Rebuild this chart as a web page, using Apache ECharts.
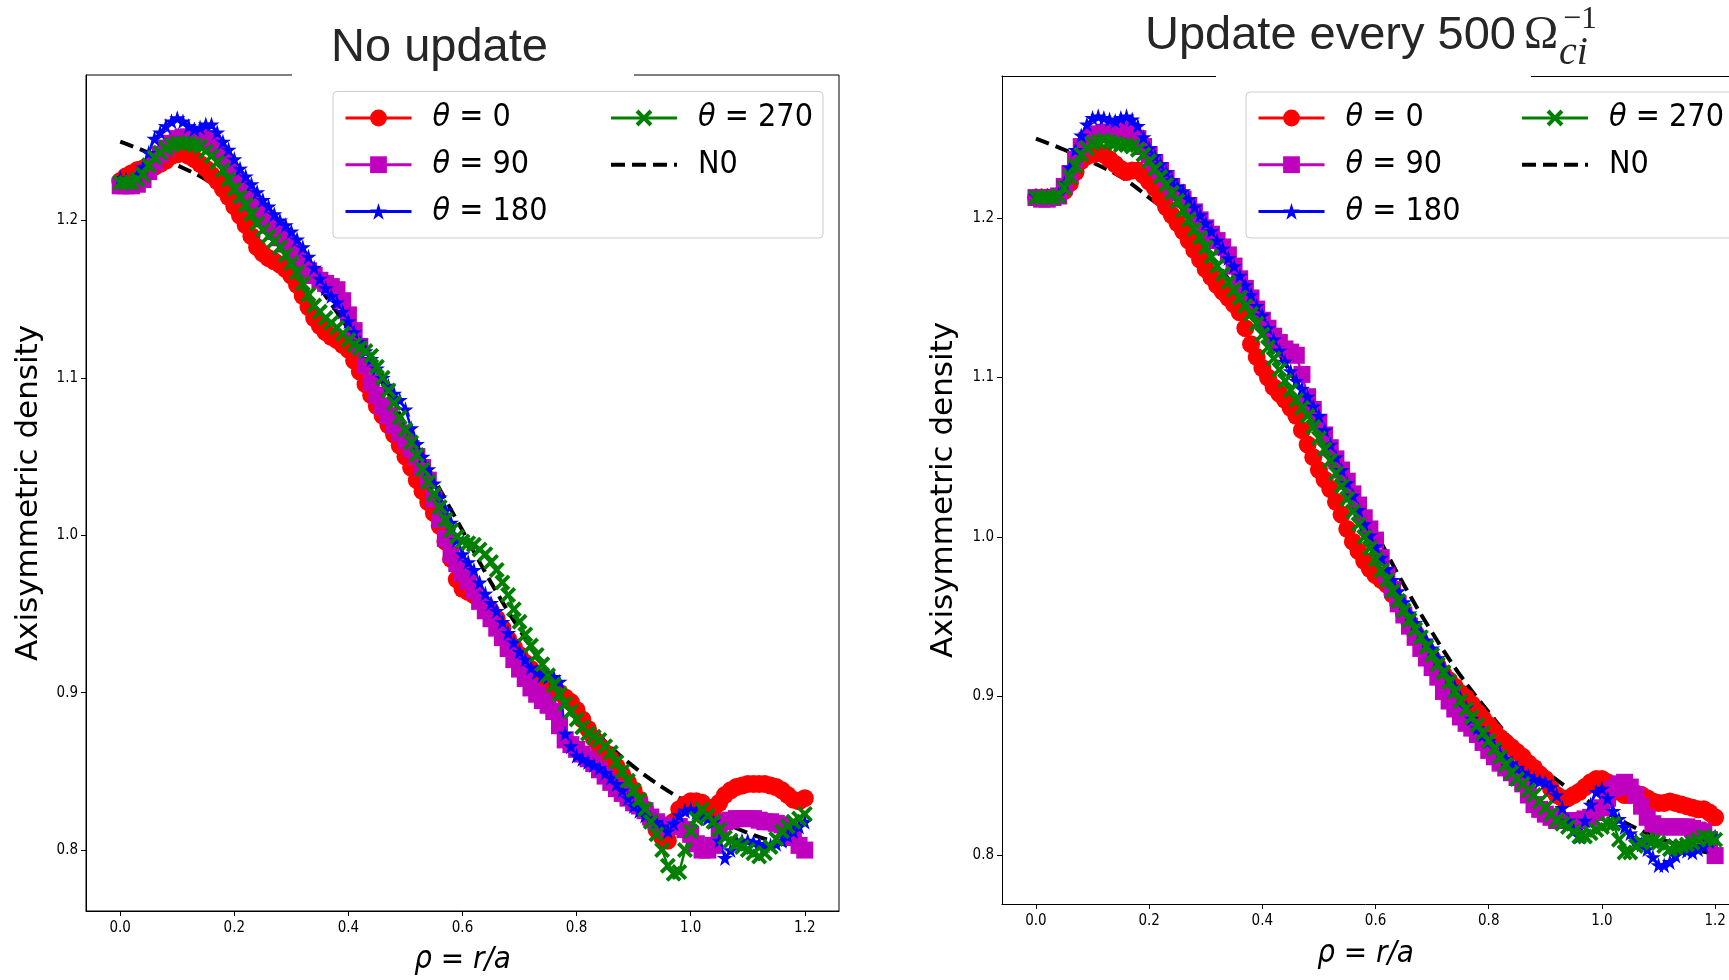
<!DOCTYPE html>
<html><head><meta charset="utf-8">
<script src="https://cdn.jsdelivr.net/npm/echarts@6/dist/echarts.min.js"></script>
<style>html,body{margin:0;padding:0;background:#fff}#c{width:1729px;height:980px}</style>
</head><body><div id="c"></div>
<script>
// ---- data ----
const rho = [0,0.01,0.02,0.03,0.04,0.05,0.06,0.07,0.08,0.09,
0.1,0.11,0.12,0.13,0.14,0.15,0.16,0.17,0.18,0.19,
0.2,0.21,0.22,0.23,0.24,0.25,0.26,0.27,0.28,0.29,
0.3,0.31,0.32,0.33,0.34,0.35,0.36,0.37,0.38,0.39,
0.4,0.41,0.42,0.43,0.44,0.45,0.46,0.47,0.48,0.49,
0.5,0.51,0.52,0.53,0.54,0.55,0.56,0.57,0.58,0.59,
0.6,0.61,0.62,0.63,0.64,0.65,0.66,0.67,0.68,0.69,
0.7,0.71,0.72,0.73,0.74,0.75,0.76,0.77,0.78,0.79,
0.8,0.81,0.82,0.83,0.84,0.85,0.86,0.87,0.88,0.89,
0.9,0.91,0.92,0.93,0.94,0.95,0.96,0.97,0.98,0.99,
1.0,1.01,1.02,1.03,1.04,1.05,1.06,1.07,1.08,1.09,
1.1,1.11,1.12,1.13,1.14,1.15,1.16,1.17,1.18,1.19,
1.2];

// left panel: "No update"
const leftT0 = [1.225,1.228,1.230,1.232,1.233,1.233,1.234,1.236,1.238,1.241,
1.242,1.243,1.241,1.239,1.236,1.233,1.229,1.225,1.220,1.215,
1.209,1.203,1.197,1.190,1.183,1.179,1.176,1.174,1.172,1.169,
1.165,1.159,1.152,1.145,1.138,1.133,1.129,1.126,1.124,1.121,
1.118,1.111,1.104,1.096,1.089,1.082,1.076,1.070,1.064,1.057,
1.050,1.043,1.035,1.028,1.021,1.014,1.006,0.996,0.985,0.972,
0.966,0.964,0.962,0.959,0.956,0.952,0.947,0.941,0.934,0.929,
0.924,0.919,0.915,0.911,0.908,0.905,0.902,0.900,0.897,0.894,
0.889,0.883,0.877,0.871,0.866,0.862,0.858,0.853,0.848,0.843,
0.838,0.832,0.826,0.819,0.813,0.808,0.806,0.818,0.826,0.829,
0.831,0.831,0.830,0.827,0.826,0.830,0.835,0.838,0.840,0.841,
0.842,0.842,0.842,0.842,0.841,0.840,0.838,0.835,0.832,0.831,
0.833];
const leftT90 = [1.222,1.222,1.222,1.223,1.226,1.231,1.237,1.242,1.246,1.249,
1.252,1.253,1.253,1.253,1.253,1.252,1.249,1.245,1.240,1.234,
1.228,1.222,1.216,1.211,1.206,1.201,1.197,1.193,1.189,1.185,
1.180,1.176,1.172,1.168,1.165,1.162,1.160,1.158,1.156,1.149,
1.140,1.130,1.120,1.108,1.097,1.089,1.082,1.076,1.070,1.065,
1.060,1.055,1.050,1.043,1.035,1.023,1.010,0.998,0.988,0.982,
0.976,0.971,0.965,0.958,0.952,0.947,0.941,0.935,0.928,0.921,
0.915,0.909,0.903,0.899,0.895,0.892,0.888,0.879,0.870,0.867,
0.864,0.861,0.858,0.855,0.851,0.847,0.843,0.839,0.836,0.833,
0.830,0.828,0.825,0.821,0.818,0.816,0.815,0.815,0.815,0.813,
0.810,0.804,0.800,0.800,0.803,0.812,0.818,0.819,0.820,0.820,
0.820,0.820,0.819,0.818,0.818,0.817,0.816,0.813,0.808,0.803,
0.800];
const leftT180 = [1.227,1.226,1.226,1.229,1.234,1.243,1.252,1.256,1.260,1.263,
1.265,1.263,1.260,1.258,1.259,1.261,1.261,1.256,1.250,1.245,
1.239,1.233,1.228,1.223,1.218,1.213,1.209,1.204,1.200,1.197,
1.193,1.188,1.183,1.177,1.170,1.163,1.157,1.152,1.148,1.142,
1.136,1.129,1.123,1.117,1.112,1.106,1.100,1.095,1.090,1.086,
1.080,1.068,1.058,1.050,1.042,1.033,1.024,1.016,1.008,0.997,
0.988,0.983,0.978,0.970,0.963,0.957,0.952,0.945,0.938,0.932,
0.926,0.921,0.916,0.913,0.911,0.910,0.910,0.907,0.874,0.866,
0.860,0.858,0.856,0.854,0.852,0.849,0.846,0.842,0.838,0.833,
0.828,0.825,0.822,0.820,0.818,0.815,0.812,0.817,0.822,0.825,
0.826,0.824,0.822,0.820,0.818,0.806,0.795,0.800,0.806,0.806,
0.806,0.805,0.804,0.803,0.803,0.804,0.806,0.809,0.812,0.815,
0.818];
const leftT270 = [1.224,1.224,1.224,1.226,1.229,1.235,1.240,1.243,1.246,1.248,
1.249,1.249,1.249,1.248,1.247,1.244,1.241,1.237,1.232,1.226,
1.220,1.215,1.210,1.204,1.198,1.194,1.190,1.187,1.183,1.178,
1.173,1.167,1.160,1.153,1.146,1.142,1.138,1.135,1.132,1.128,
1.124,1.121,1.119,1.117,1.114,1.107,1.100,1.092,1.084,1.075,
1.067,1.059,1.051,1.042,1.034,1.026,1.018,1.010,1.003,0.999,
0.996,0.995,0.994,0.991,0.988,0.983,0.978,0.970,0.962,0.953,
0.945,0.937,0.930,0.924,0.918,0.911,0.905,0.899,0.893,0.888,
0.883,0.878,0.874,0.872,0.870,0.866,0.862,0.856,0.850,0.844,
0.838,0.832,0.826,0.818,0.810,0.800,0.790,0.785,0.786,0.800,
0.812,0.820,0.826,0.822,0.818,0.813,0.808,0.806,0.804,0.802,
0.800,0.798,0.796,0.798,0.802,0.807,0.812,0.815,0.818,0.820,
0.823];

// right panel: "Update every 500"
const rightT0 = [1.213,1.213,1.213,1.213,1.214,1.217,1.222,1.229,1.236,1.239,
1.240,1.241,1.240,1.237,1.234,1.231,1.229,1.230,1.230,1.227,
1.223,1.219,1.213,1.207,1.202,1.197,1.192,1.186,1.180,1.174,
1.168,1.163,1.158,1.154,1.150,1.146,1.141,1.131,1.121,1.113,
1.106,1.100,1.094,1.090,1.086,1.081,1.076,1.067,1.058,1.050,
1.042,1.036,1.030,1.022,1.014,1.005,0.997,0.991,0.985,0.980,
0.976,0.973,0.970,0.964,0.958,0.952,0.946,0.940,0.934,0.929,
0.924,0.919,0.914,0.910,0.906,0.902,0.899,0.895,0.890,0.886,
0.882,0.878,0.874,0.871,0.868,0.865,0.862,0.858,0.855,0.851,
0.848,0.842,0.838,0.836,0.836,0.838,0.840,0.843,0.846,0.848,
0.848,0.846,0.843,0.840,0.838,0.838,0.839,0.838,0.836,0.834,
0.833,0.833,0.834,0.833,0.832,0.831,0.830,0.829,0.829,0.827,
0.824];
const rightT90 = [1.213,1.212,1.212,1.213,1.214,1.220,1.228,1.237,1.245,1.249,
1.252,1.253,1.254,1.254,1.254,1.255,1.256,1.254,1.250,1.245,
1.240,1.235,1.230,1.225,1.220,1.216,1.212,1.208,1.204,1.199,
1.194,1.190,1.186,1.182,1.177,1.170,1.162,1.156,1.150,1.143,
1.136,1.131,1.126,1.122,1.118,1.116,1.114,1.102,1.088,1.080,
1.072,1.064,1.056,1.049,1.042,1.035,1.027,1.020,1.012,1.005,
0.998,0.987,0.976,0.967,0.958,0.951,0.944,0.937,0.930,0.924,
0.918,0.912,0.903,0.897,0.892,0.887,0.883,0.880,0.876,0.871,
0.866,0.862,0.858,0.855,0.852,0.849,0.845,0.838,0.832,0.829,
0.826,0.824,0.822,0.822,0.822,0.822,0.822,0.823,0.824,0.827,
0.830,0.836,0.842,0.845,0.846,0.843,0.838,0.831,0.824,0.820,
0.818,0.818,0.818,0.818,0.818,0.818,0.817,0.816,0.815,0.810,
0.800];
const rightT180 = [1.214,1.214,1.214,1.214,1.215,1.222,1.232,1.243,1.252,1.259,
1.263,1.264,1.263,1.262,1.261,1.263,1.264,1.262,1.258,1.251,
1.244,1.239,1.234,1.229,1.224,1.220,1.217,1.212,1.207,1.202,
1.197,1.192,1.186,1.181,1.175,1.170,1.164,1.158,1.152,1.145,
1.139,1.131,1.124,1.117,1.110,1.104,1.098,1.093,1.088,1.082,
1.076,1.067,1.058,1.050,1.042,1.034,1.026,1.017,1.008,1.001,
0.994,0.987,0.980,0.973,0.966,0.959,0.952,0.946,0.940,0.935,
0.930,0.924,0.918,0.912,0.906,0.899,0.893,0.886,0.880,0.876,
0.872,0.868,0.864,0.861,0.858,0.855,0.852,0.850,0.848,0.847,
0.846,0.843,0.838,0.830,0.822,0.816,0.812,0.822,0.832,0.840,
0.842,0.836,0.828,0.823,0.818,0.814,0.810,0.807,0.804,0.799,
0.794,0.794,0.796,0.800,0.804,0.803,0.802,0.804,0.806,0.809,
0.812];
const rightT270 = [1.213,1.213,1.213,1.213,1.214,1.219,1.226,1.233,1.240,1.244,
1.247,1.248,1.249,1.248,1.247,1.246,1.246,1.245,1.243,1.240,
1.236,1.231,1.226,1.221,1.216,1.211,1.205,1.199,1.193,1.188,
1.182,1.176,1.170,1.165,1.160,1.155,1.150,1.145,1.140,1.134,
1.127,1.119,1.112,1.105,1.098,1.092,1.086,1.081,1.076,1.069,
1.062,1.055,1.048,1.040,1.032,1.024,1.016,1.008,1.000,0.993,
0.986,0.979,0.973,0.966,0.960,0.954,0.948,0.942,0.937,0.931,
0.926,0.920,0.915,0.909,0.903,0.897,0.892,0.887,0.882,0.877,
0.872,0.867,0.862,0.857,0.852,0.848,0.845,0.841,0.838,0.834,
0.830,0.826,0.822,0.820,0.818,0.815,0.812,0.812,0.814,0.816,
0.818,0.820,0.820,0.810,0.802,0.802,0.806,0.808,0.810,0.809,
0.808,0.806,0.804,0.805,0.806,0.807,0.808,0.810,0.812,0.811,
0.810];

// initial profile N0 (same in both panels)
const rhoN0 = [0,0.05,0.1,0.15,0.2,0.25,0.3,0.35,0.4,0.45,0.5,0.55,0.6,0.65,0.7,0.75,0.8,0.85,0.9,0.95,1.0,1.05,1.1,1.15,1.2];
const N0 = [1.250,1.243,1.235,1.226,1.213,1.199,1.180,1.157,1.131,1.103,1.070,1.036,1.003,0.970,0.940,0.913,0.890,0.869,0.853,0.840,0.829,0.819,0.811,0.805,0.801];

const xTicks = [0,0.2,0.4,0.6,0.8,1.0,1.2];
const yTicks = [0.8,0.9,1.0,1.1,1.2];
const seriesNames = ['θ = 0','θ = 90','θ = 180','θ = 270','N0'];

// ---- chart ----
const chart = echarts.init(document.getElementById('c'), null, {renderer:'canvas'});
const DV = "'DejaVu Sans Condensed','DejaVu Sans',sans-serif";
const DVN = "'DejaVu Sans',sans-serif";
const STAR = 'path://M10,0 L12.23,6.93 L19.51,6.91 L13.61,11.17 L15.88,18.09 L10,13.8 L4.12,18.09 L6.39,11.17 L0.49,6.91 L7.77,6.93 Z';
const XMARK = 'path://M0,1.7 L1.7,0 L5,3.3 L8.3,0 L10,1.7 L6.7,5 L10,8.3 L8.3,10 L5,6.7 L1.7,10 L0,8.3 L3.3,5 Z';

const styles = [
  {color:'#ff0000', symbol:'circle', size:18},
  {color:'#bf00bf', symbol:'rect', size:17},
  {color:'#0000ff', symbol:STAR, size:16},
  {color:'#008000', symbol:XMARK, size:16}
];

function pairs(xs, ys){ return xs.map((x,i)=>[x, ys[i]]); }

function xAxisCfg(g, max, nameGap){
  return {type:'value', gridIndex:g, min:-0.06, max:max,
    axisLine:{show:true, onZero:false, lineStyle:{color:'#000', width:1}},
    splitLine:{show:false},
    axisTick:{show:true, inside:false, length:5, customValues:xTicks, lineStyle:{color:'#000', width:1}},
    axisLabel:{customValues:xTicks, formatter:v=>Number(v).toFixed(1), fontSize:15, fontFamily:DV, color:'#000', margin:10},
    name:'ρ = r/a', nameLocation:'middle', nameGap:nameGap,
    nameTextStyle:{fontSize:31, fontStyle:'italic', fontFamily:DV, color:'#000'}};
}
function yAxisCfg(g, min, max, nameGap){
  return {type:'value', gridIndex:g, min:min, max:max,
    axisLine:{show:true, onZero:false, lineStyle:{color:'#000', width:1}},
    splitLine:{show:false},
    axisTick:{show:true, inside:false, length:5, customValues:yTicks, lineStyle:{color:'#000', width:1}},
    axisLabel:{customValues:yTicks, formatter:v=>Number(v).toFixed(1), fontSize:15, fontFamily:DV, color:'#000', margin:8},
    name:'Axisymmetric density', nameLocation:'middle', nameGap:nameGap, nameRotate:90,
    nameTextStyle:{fontSize:31, fontFamily:DVN, color:'#000'}};
}

const panels = [
  {vals:[leftT0,leftT90,leftT180,leftT270]},
  {vals:[rightT0,rightT90,rightT180,rightT270]}
];
const series = [];
panels.forEach((p,g)=>{
  p.vals.forEach((v,k)=>{
    series.push({type:'line', name:seriesNames[k], xAxisIndex:g, yAxisIndex:g,
      data:pairs(rho, v), symbol:styles[k].symbol, symbolSize:styles[k].size,
      showSymbol:true, showAllSymbol:true, clip:true,
      lineStyle:{color:styles[k].color, width:2.5}, itemStyle:{color:styles[k].color, borderWidth:0},
      emphasis:{disabled:true}, animation:false});
  });
  series.push({type:'line', name:'N0', xAxisIndex:g, yAxisIndex:g,
    data:pairs(rhoN0, N0), symbol:'none', smooth:0.4, clip:true,
    lineStyle:{color:'#000', width:4, type:[14,7]}, itemStyle:{color:'#000'},
    emphasis:{disabled:true}, animation:false, z:3});
});

function legendCfg(left, data){
  return {show:true, left:left, top:101, orient:'vertical', data:data, padding:0,
    itemWidth:66, itemHeight:21, itemGap:12.7, selectedMode:false,
    lineStyle:{width:3},
    formatter: n => n.replace('θ', '{i|θ}'),
    textStyle:{fontSize:32, fontFamily:DV, color:'#000', lineHeight:34, padding:[0,0,0,16],
      rich:{i:{fontSize:32, fontStyle:'italic', fontFamily:DV, color:'#000', lineHeight:34}}}};
}
const col1 = ['θ = 0','θ = 90','θ = 180'];
const col2 = ['θ = 270', {name:'N0', itemStyle:{opacity:0}, lineStyle:{width:4}}];

const titleFont = "'Liberation Sans',Arial,sans-serif";
const serifFont = "'Liberation Serif','DejaVu Serif',serif";

const option = {
  animation:false,
  backgroundColor:'#fff',
  grid:[
    {left:86, top:75, width:753, height:836, show:true, borderColor:'#000', borderWidth:1, backgroundColor:'transparent', containLabel:false},
    {left:1002, top:76, right:0, height:828, show:false, containLabel:false}
  ],
  xAxis:[
    xAxisCfg(0, 1.26, 33),
    xAxisCfg(1, 1.2245, 34),
    {type:'value', gridIndex:1, position:'top', min:-0.06, max:1.2245,
     axisLine:{show:true, onZero:false, lineStyle:{color:'#000', width:1}},
     axisTick:{show:false}, axisLabel:{show:false}, splitLine:{show:false}}
  ],
  yAxis:[yAxisCfg(0, 0.7613, 1.2924, 42), yAxisCfg(1, 0.7696, 1.2893, 43)],
  legend:[
    legendCfg(344, col1),
    legendCfg(609, col2),
    legendCfg(1257, col1),
    legendCfg(1520, col2)
  ],
  graphic:[
    {type:'rect', z:3, shape:{x:333, y:91.5, width:490, height:146.5, r:4}, style:{fill:'rgba(255,255,255,0.8)', stroke:'#cccccc', lineWidth:1}},
    {type:'rect', z:3, shape:{x:1246, y:92, width:520, height:146, r:4}, style:{fill:'rgba(255,255,255,0.8)', stroke:'#cccccc', lineWidth:1}},
    {type:'rect', z:100, shape:{x:292, y:70, width:342, height:10}, style:{fill:'#fff'}},
    {type:'rect', z:100, shape:{x:1216, y:70, width:315, height:12}, style:{fill:'#fff'}},
    {type:'text', z:101, style:{text:'No update', x:439.5, y:48, font:"47px "+titleFont, fill:'#262626', textAlign:'center', textVerticalAlign:'middle', align:'center', verticalAlign:'middle'}},
    {type:'text', z:101, style:{text:'Update every 500', x:1516, y:36, font:"47px "+titleFont, fill:'#262626', textAlign:'right', textVerticalAlign:'middle', align:'right', verticalAlign:'middle'}},
    {type:'text', z:101, style:{text:'Ω', x:1524, y:36, font:"46px "+serifFont, fill:'#262626', textAlign:'left', textVerticalAlign:'middle', align:'left', verticalAlign:'middle'}},
    {type:'text', z:101, style:{text:'ci', x:1559, y:53, font:"italic 40px "+serifFont, fill:'#262626', textAlign:'left', textVerticalAlign:'middle', align:'left', verticalAlign:'middle'}},
    {type:'text', z:101, style:{text:'−1', x:1563, y:20, font:"32px "+serifFont, fill:'#262626', textAlign:'left', textVerticalAlign:'middle', align:'left', verticalAlign:'middle'}}
  ],
  series:series
};
chart.setOption(option);
</script>
</body></html>
